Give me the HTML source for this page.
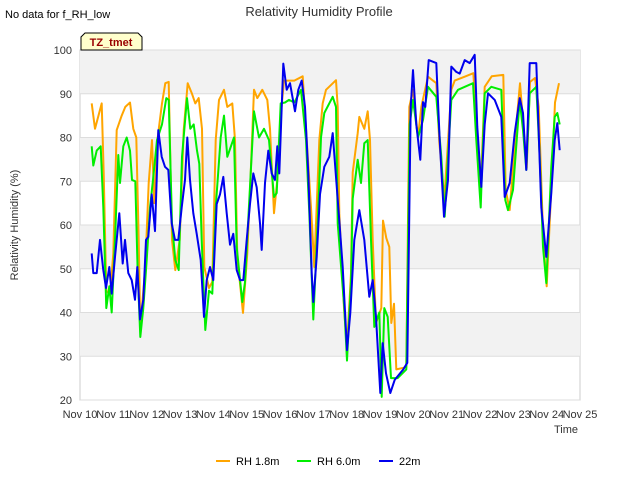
<!DOCTYPE html>
<html><head><meta charset="utf-8"><style>
body{margin:0;background:#fff;font-family:"Liberation Sans",sans-serif;}
svg text{font-family:"Liberation Sans",sans-serif;}
</style></head><body>
<svg id="chart" width="640" height="480" xmlns="http://www.w3.org/2000/svg">
<text x="5" y="18" font-size="11" fill="#000">No data for f_RH_low</text>
<text x="319" y="16" font-size="13" fill="#333" text-anchor="middle">Relativity Humidity Profile</text>
<g id="plot"></g>
<text x="18" y="225" font-size="11" fill="#333" text-anchor="middle" transform="rotate(-90 18 225)">Relativity Humidity (%)</text>
<text x="578" y="433" font-size="11" fill="#333" text-anchor="end">Time</text>
<g id="legend"></g>
<g>
<path d="M81,50 L81,37 L85,33 L138,33 L142,37 L142,50 Z" fill="#ffffcc" stroke="#000" stroke-width="1"/>
<text x="111" y="46" font-size="11" font-weight="bold" fill="#990000" text-anchor="middle">TZ_tmet</text>
</g>
</svg>
<script>
const xTicks=["Nov 10","Nov 11","Nov 12","Nov 13","Nov 14","Nov 15","Nov 16","Nov 17","Nov 18","Nov 19","Nov 20","Nov 21","Nov 22","Nov 23","Nov 24","Nov 25"];
const yTicks=[20,30,40,50,60,70,80,90,100];
const seriesNames=["RH 1.8m","RH 6.0m","22m"];
const seriesColors=["#ffa500","#00ee00","#0000ee"];
const t18=[0.35,0.45,0.65,0.71,0.79,0.9,1.0,1.1,1.25,1.36,1.5,1.6,1.69,1.76,1.81,1.96,2.06,2.16,2.23,2.33,2.46,2.56,2.66,2.76,2.86,2.99,3.11,3.23,3.36,3.46,3.56,3.66,3.73,3.87,3.97,4.07,4.17,4.32,4.42,4.57,4.65,4.72,4.89,5.02,5.12,5.22,5.32,5.47,5.62,5.7,5.82,5.92,6.02,6.12,6.43,6.68,6.93,7.03,7.18,7.28,7.38,7.68,7.73,7.78,7.92,8.01,8.13,8.18,8.33,8.38,8.53,8.63,8.7,8.78,8.88,9.04,9.09,9.19,9.28,9.34,9.42,9.49,9.79,9.88,9.99,10.14,10.24,10.44,10.69,10.78,10.93,11.04,11.14,11.24,11.54,11.8,11.9,12.02,12.14,12.35,12.7,12.77,12.89,13.1,13.2,13.3,13.4,13.5,13.65,13.76,13.9,14.0,14.16,14.25,14.37];
const v18=[87.8,82,87.8,71.8,45,44,53.5,81.7,85,87,88,82,80,56.6,36.7,50.4,69.6,79.4,65,80,87.8,92.4,92.7,56.6,49.7,56.6,81.7,92.4,90,87.8,89,82,50.4,45.6,47,79.4,88.6,90.9,87,87.8,79.4,52.7,39.9,53.5,71.8,90.9,89,90.9,88.6,82,62.7,70.3,85,93,93,94,64,50.4,79.4,87.8,90.9,93.1,87,62.7,41,32,49,72,81,84.7,82,86,79.4,56.6,37.6,41,61,57,55,37.6,42,27,27.5,87,90.9,80,87,93.9,92.4,79,66,79,90.9,93,93.9,94.7,83,68,91.6,94,94.3,68,63.4,84,92.4,83,73,92.7,93.6,87,56.6,46,71.8,88,92.4];
const t60=[0.35,0.4,0.5,0.62,0.7,0.79,0.88,0.95,1.05,1.15,1.2,1.3,1.4,1.5,1.56,1.66,1.73,1.81,1.9,2.0,2.1,2.19,2.31,2.46,2.59,2.66,2.76,2.86,2.96,3.06,3.21,3.31,3.41,3.51,3.58,3.65,3.76,3.87,3.97,4.07,4.22,4.32,4.42,4.62,4.7,4.87,4.95,5.12,5.22,5.37,5.52,5.67,5.82,5.9,6.02,6.15,6.27,6.43,6.63,6.78,6.88,7.0,7.13,7.23,7.33,7.58,7.68,7.73,7.93,8.01,8.13,8.18,8.33,8.43,8.53,8.63,8.73,8.83,8.98,9.05,9.13,9.23,9.33,9.53,9.79,9.89,9.99,10.14,10.29,10.44,10.69,10.84,10.94,11.04,11.14,11.34,11.79,11.89,12.02,12.14,12.34,12.64,12.76,12.84,12.99,13.19,13.29,13.39,13.49,13.69,13.79,13.89,13.99,14.14,14.24,14.32,14.39];
const v60=[78,73.6,77,78,64,41,46,40,56.6,76,69.6,78,80,77,70.3,70,49,34.4,41,52,64,70.3,79.4,83,89,88.6,60.4,52,49.7,75.6,89,82,83,77,74,56.6,36,45,44.3,64,80,85,75.6,80,55,42.4,47,71.8,86,80,82,79.4,66.4,67.3,87.8,88,88.6,88,90.9,79.4,62.7,38.4,60.4,80,85.6,89.3,87,60.4,41,29,47,66,74.9,69.6,78.7,79.4,56.6,36.7,40,20.7,41,39,25,25,27,83,88.6,80,84,91.6,89.3,75.6,61.9,75.6,88.6,90.9,92.4,79.4,64,90.1,91.6,90.9,65.7,63.4,68,88.6,81.7,72.6,90.1,91.6,75.6,55,46.7,73.3,84.7,85.6,83];
const t22=[0.35,0.4,0.5,0.6,0.7,0.78,0.88,0.95,1.05,1.18,1.28,1.35,1.45,1.55,1.65,1.72,1.8,1.9,1.98,2.05,2.15,2.25,2.35,2.45,2.55,2.65,2.75,2.85,2.95,3.05,3.15,3.22,3.3,3.4,3.5,3.62,3.72,3.8,3.9,4.0,4.1,4.2,4.3,4.4,4.5,4.6,4.7,4.8,4.9,5.0,5.1,5.2,5.3,5.4,5.45,5.55,5.65,5.75,5.85,5.92,5.98,6.1,6.2,6.3,6.45,6.55,6.65,6.75,6.85,6.95,7.0,7.1,7.2,7.33,7.48,7.58,7.68,7.78,7.88,8.01,8.11,8.23,8.38,8.53,8.68,8.78,8.88,9.01,9.08,9.18,9.31,9.44,9.69,9.82,9.92,9.99,10.09,10.21,10.29,10.36,10.46,10.69,10.79,10.92,11.04,11.14,11.29,11.39,11.54,11.69,11.84,11.92,12.04,12.14,12.24,12.44,12.64,12.74,12.89,13.04,13.19,13.29,13.39,13.49,13.69,13.84,13.99,14.14,14.24,14.32,14.39];
const v22=[53.5,49,49,56.6,49.7,45.6,50.4,44.3,52.7,62.7,51.2,56.6,49,47.4,42.9,50.4,38.4,42.9,56.6,57.3,67,58.6,81.7,75.6,73.3,72.6,60.4,56.6,56.6,64,70.3,80,70.3,62.7,58,52,39,47.4,50.4,47.4,64.8,67,71,62.7,55.5,58,49.7,47.4,47.4,56.6,64.8,71.8,68.6,60.4,54.3,69.6,77,71.8,70.3,78,71.8,96.9,90.9,92.4,86,90.9,93,87,71.8,49,42.4,52.7,67,73.3,75.6,81,71,61,50.4,31.4,39.9,56.6,63.4,56.6,43.6,47.4,39,21.6,33,26.1,21.6,24.6,26.9,28.5,87,95.4,83,74.9,88.1,87,97.7,97,79.4,61.9,70.3,96.2,95,94.6,97.7,97,98.9,82.4,68.7,83,90.1,88.6,84.7,66.4,69.6,81,89,85.6,72.6,97,97,64,52.7,67.3,79.4,83.3,77.1];
const NS="http://www.w3.org/2000/svg";
const X0=80,X1=580,Y0=400,Y1=50,DAYS=15;
function xs(d){return X0+(X1-X0)*d/DAYS;}
function ys(v){return Y0-(Y0-Y1)*(v-20)/80;}
const plot=document.getElementById('plot');
function mk(tag,attrs,parent){const e=document.createElementNS(NS,tag);for(const k in attrs)e.setAttribute(k,attrs[k]);parent.appendChild(e);return e;}
const bg=mk('rect',{x:X0,y:Y1,width:X1-X0,height:Y0-Y1,fill:'#fff',stroke:'#ccc'},plot);


for(let i=0;i<yTicks.length-1;i++){
  if(i%2===1){const b=mk('rect',{x:X0,y:ys(yTicks[i+1]),width:X1-X0,height:ys(yTicks[i])-ys(yTicks[i+1]),fill:'#f2f2f2'},plot);
  
  }
}
yTicks.forEach(v=>{
  const g=mk('line',{x1:X0,x2:X1,y1:ys(v),y2:ys(v),stroke:'#ddd','stroke-width':1},plot);
  
  
  const t=mk('text',{x:X0-8,y:ys(v)+4,'font-size':11,fill:'#333','text-anchor':'end'},plot);
  t.textContent=v;
  
  
});
xTicks.forEach((s,i)=>{
  const t=mk('text',{x:xs(i),y:Y0+18,'font-size':11,fill:'#333','text-anchor':'middle'},plot);
  t.textContent=s;
  
  
});
const ser=[[t18,v18],[t60,v60],[t22,v22]];
const names=['rh-1-8m-line','rh-6-0m-line','rh-22m-line'];
ser.forEach((s,k)=>{
  const pts=s[0].map((d,i)=>xs(d).toFixed(1)+','+ys(s[1][i]).toFixed(1)).join(' ');
  const p=mk('polyline',{points:pts,fill:'none',stroke:seriesColors[k],'stroke-width':2,'stroke-linejoin':'round'},plot);
  
  
});
const lg=document.getElementById('legend');
const lx=[216,297,379];
seriesNames.forEach((n,k)=>{
  const g=mk('g',{},lg);
  
  
  mk('line',{x1:lx[k],x2:lx[k]+14,y1:461,y2:461,stroke:seriesColors[k],'stroke-width':2},g);
  const t=mk('text',{x:lx[k]+20,y:465,'font-size':11,fill:'#000'},g);
  t.textContent=n;
});
</script>
</body></html>
